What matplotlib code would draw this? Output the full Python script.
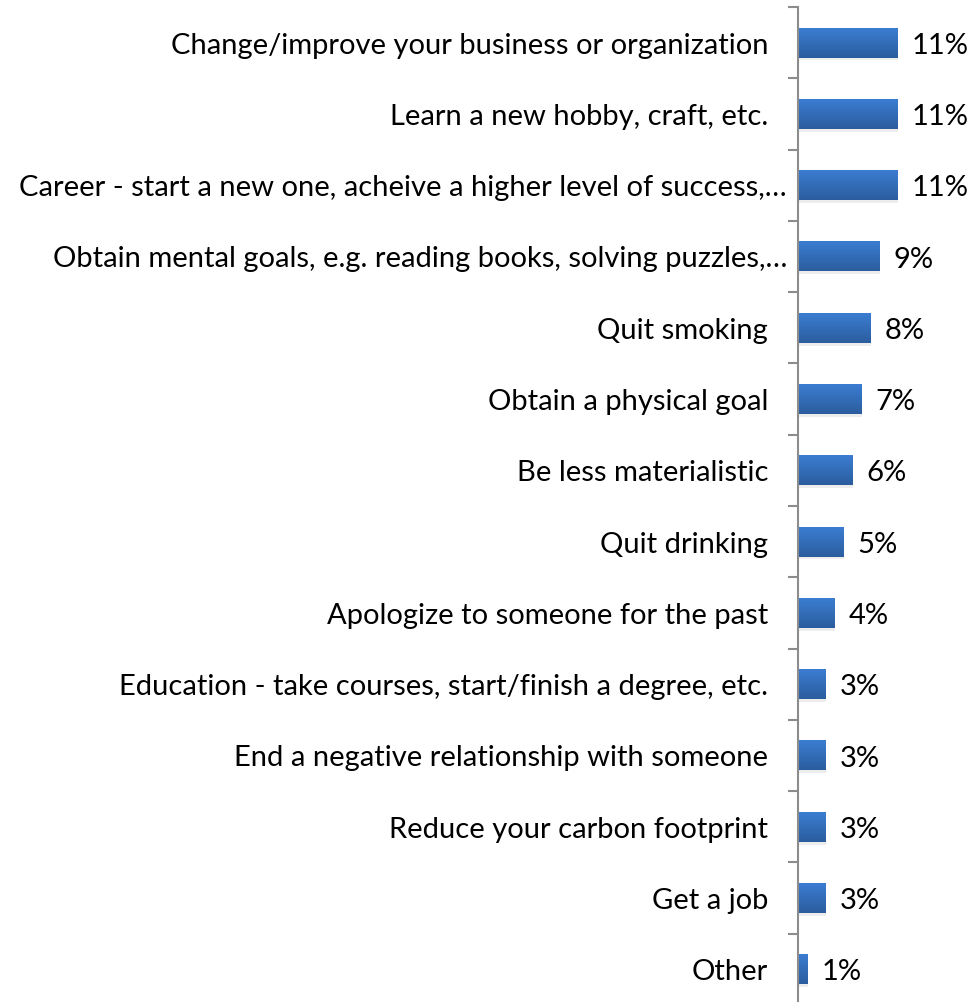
import numpy as np
import matplotlib
matplotlib.use("Agg")
import matplotlib.pyplot as plt
from matplotlib.colors import LinearSegmentedColormap

categories = [
    "Change/improve your business or organization",
    "Learn a new hobby, craft, etc.",
    "Career - start a new one, acheive a higher level of success,\u2026",
    "Obtain mental goals, e.g. reading books, solving puzzles,\u2026",
    "Quit smoking",
    "Obtain a physical goal",
    "Be less materialistic",
    "Quit drinking",
    "Apologize to someone for the past",
    "Education - take courses, start/finish a degree, etc.",
    "End a negative relationship with someone",
    "Reduce your carbon footprint",
    "Get a job",
    "Other",
]
values = [11, 11, 11, 9, 8, 7, 6, 5, 4, 3, 3, 3, 3, 1]

plt.rcParams["font.family"] = ["Lato", "DejaVu Sans"]

fig = plt.figure(figsize=(9.71, 10.03), dpi=100)
ax = fig.add_axes([798 / 971, -3 / 1003, 173 / 971, 998 / 1003])

n = len(categories)
y = np.arange(n)
bar_h = 0.42
grad = LinearSegmentedColormap.from_list("bar", ["#2b5d9e", "#3b7dd2"])
gimg = np.linspace(0, 1, 64).reshape(-1, 1)

for yi, v in zip(y, values):
    # soft shadow under each bar
    ax.barh(yi + 0.04, v, height=bar_h, left=0.1, color="#000000", alpha=0.07, zorder=1)
    ax.imshow(gimg, cmap=grad, aspect="auto", origin="lower",
              extent=(0, v, yi + bar_h / 2, yi - bar_h / 2), zorder=2)
    ax.text(v + 1.6, yi + 0.03, f"{v}%", va="center", ha="left", fontsize=21, color="black")

# category labels; the truncated ones (ending in an ellipsis) sit closer to the axis
for yi, cat in zip(y, categories):
    dx = -11 if cat.endswith("\u2026") else -30
    ax.annotate(cat, xy=(0, yi), xycoords=("axes fraction", "data"),
                xytext=(dx, -2), textcoords="offset pixels",
                ha="right", va="center", fontsize=21, annotation_clip=False)

ax.set_xlim(0, 19.2)
ax.set_ylim(n - 0.5, -0.5)
ax.set_yticks(np.arange(n + 1) - 0.5)
ax.set_yticklabels([])
ax.tick_params(axis="y", length=7, color="#8c8c8c", width=1.5)
ax.set_xticks([])
for s in ["top", "right", "bottom"]:
    ax.spines[s].set_visible(False)
ax.spines["left"].set_color("#8c8c8c")
ax.spines["left"].set_linewidth(1.5)
ax.set_facecolor("none")

fig.savefig("out.png", dpi=100)
